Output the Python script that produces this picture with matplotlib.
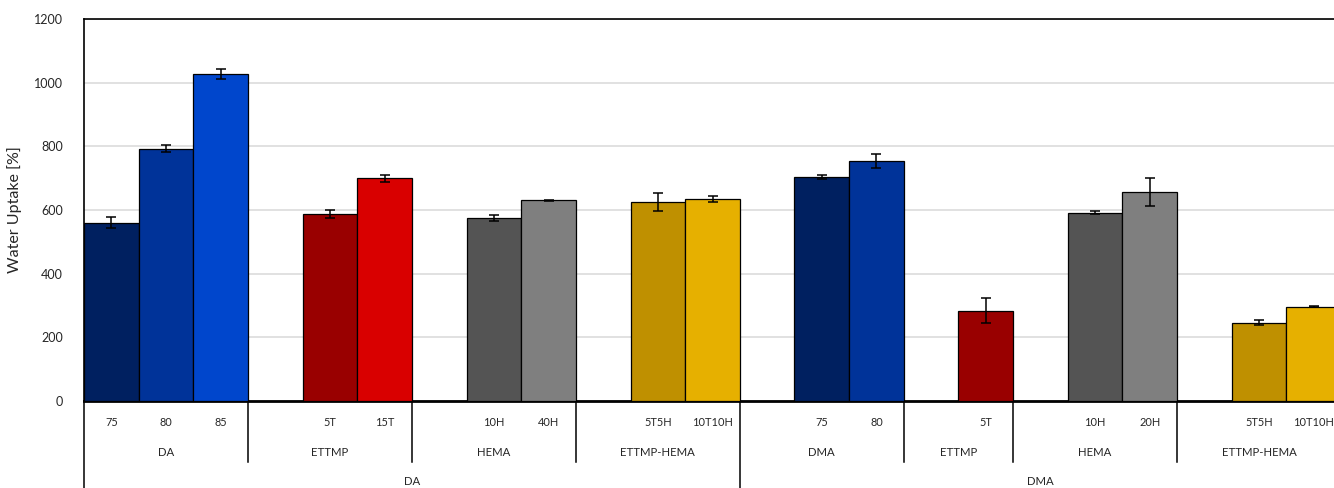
import numpy as np
import matplotlib
matplotlib.use("Agg")
import matplotlib.pyplot as plt

plt.rcParams['font.family'] = ['Lato', 'DejaVu Sans']

# Slot labels along the category axis (empty strings are spacer slots)
slot_labels = ["75", "80", "85",
               "", "5T", "15T",
               "", "10H", "40H",
               "", "5T5H", "10T10H",
               "", "75", "80",
               "", "5T",
               "", "10H", "20H",
               "", "5T5H", "10T10H"]

# Water uptake [%] and standard deviation per slot (nan = spacer)
nan = np.nan
uptake = [560, 792, 1026,
          nan, 587, 699,
          nan, 575, 631,
          nan, 626, 635,
          nan, 704, 754,
          nan, 284,
          nan, 591, 656,
          nan, 246, 296]
uptake_err = [18, 11, 16,
              nan, 12, 11,
              nan, 8, 1.5,
              nan, 28, 10,
              nan, 6, 23,
              nan, 39,
              nan, 5, 43,
              nan, 8, 2]

# Second level: comonomer groups and number of slots in each
group_names = ["DA", "ETTMP", "HEMA", "ETTMP-HEMA",
               "DMA", "ETTMP", "HEMA", "ETTMP-HEMA"]
group_sizes = [3, 3, 3, 3, 3, 2, 3, 3]

# Third level: base monomer and number of slots in each
base_names = ["DA", "DMA"]
base_sizes = [12, 11]

bar_colors = ["#002060", "#003399", "#0046CC",
              "none", "#990000", "#D90000",
              "none", "#545454", "#7F7F7F",
              "none", "#BF9000", "#E6B000",
              "none", "#002060", "#003399",
              "none", "#990000",
              "none", "#545454", "#7F7F7F",
              "none", "#BF9000", "#E6B000"]

fig = plt.figure(figsize=(13.34, 4.88), dpi=100)
ax = fig.add_axes([84 / 1334, 1 - 401 / 488, 1257 / 1334, 382 / 488])

x = np.arange(len(slot_labels))
vals = np.array(uptake, dtype=float)
errs = np.array(uptake_err, dtype=float)
mask = ~np.isnan(vals)

ax.bar(x[mask], vals[mask], width=1.0,
       color=[c for c, m in zip(bar_colors, mask) if m],
       edgecolor="black", linewidth=0.9, zorder=3)
ax.errorbar(x[mask], vals[mask], yerr=errs[mask], fmt="none",
            ecolor="black", elinewidth=1.1, capsize=3.5, capthick=1.1,
            zorder=4)

ax.set_xlim(-0.5, len(slot_labels) - 0.5)
ax.set_ylim(0, 1200)
ax.set_yticks(np.arange(0, 1201, 200))
ax.tick_params(axis="y", length=0, pad=15, labelsize=9, labelcolor="#262626")
ax.set_xticks([])
ax.yaxis.grid(True, color="#d9d9d9", linewidth=1.1, zorder=0)
ax.set_axisbelow(True)

for side in ["top", "left"]:
    ax.spines[side].set_color("black")
    ax.spines[side].set_linewidth(1.2)
ax.spines["bottom"].set_color("black")
ax.spines["bottom"].set_linewidth(2.0)
ax.spines["right"].set_visible(False)

ax.set_ylabel("Water Uptake [%]", fontsize=11.5, color="#262626")
ax.yaxis.set_label_coords(-62 / 1257, 0.5)

trans = ax.get_xaxis_transform()
row1, row2, row3 = -0.055, -0.134, -0.212
sep_short, sep_long = -0.160, -0.30

for xi, lab in zip(x, slot_labels):
    if lab:
        ax.text(xi, row1, lab, transform=trans, ha="center", va="center",
                fontsize=7.9, color="#262626")

edges = np.concatenate([[0], np.cumsum(group_sizes)]) - 0.5
for name, a, b in zip(group_names, edges[:-1], edges[1:]):
    ax.text((a + b) / 2, row2, name, transform=trans, ha="center",
            va="center", fontsize=8.2, color="#262626")

base_edges = np.concatenate([[0], np.cumsum(base_sizes)]) - 0.5
for name, a, b in zip(base_names, base_edges[:-1], base_edges[1:]):
    ax.text((a + b) / 2, row3, name, transform=trans, ha="center",
            va="center", fontsize=8.2, color="#262626")

for e in edges:
    bottom = sep_long if e in base_edges else sep_short
    ax.plot([e, e], [0, bottom], transform=trans, color="black",
            linewidth=1.1, clip_on=False)

fig.savefig("out.png", dpi=100)
